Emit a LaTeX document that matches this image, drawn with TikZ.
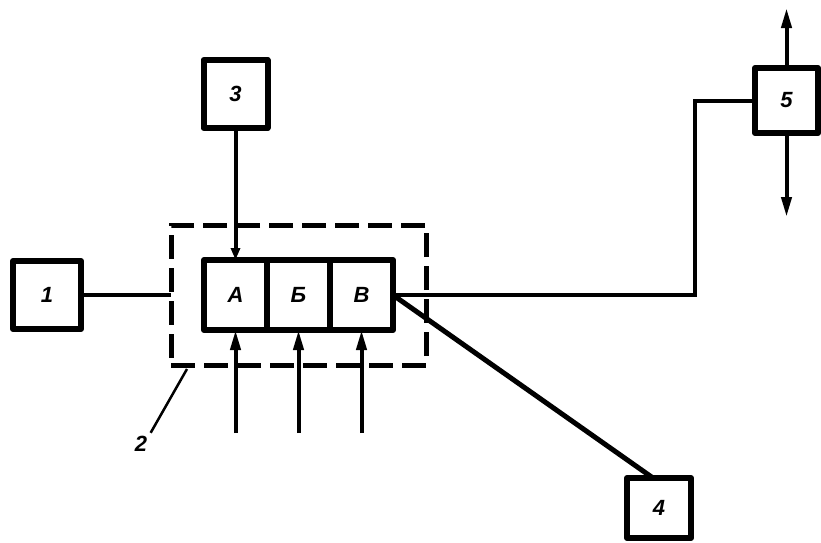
\documentclass[tikz,border=0pt]{standalone}
\usepackage{fontspec}
\setmainfont{Liberation Sans}
\usetikzlibrary{arrows.meta,positioning,fit,calc}

\begin{document}
\begin{tikzpicture}[
    x=1pt, y=-1pt,
    font=\fontsize{22}{24}\selectfont\bfseries\itshape,
    unit/.style={draw, line width=6pt, line join=round, minimum width=64pt, minimum height=68pt, inner sep=0pt, outer sep=0pt},
    cell/.style={draw, line width=6pt, line join=round, minimum width=63pt, minimum height=70pt, inner sep=0pt, outer sep=0pt},
    frame/.style={draw, line width=5pt, dash pattern=on 24pt off 9pt, inner xsep=33pt, inner ysep=35pt, outer sep=0pt},
    wire/.style={line width=4pt},
    arrow/.style={wire, -{Triangle[length=20pt, width=10pt]}},
    leader/.style={line width=2.5pt}
]
\useasboundingbox (0,0) rectangle (821,542);

% block 2 with its three parts
\node[cell] (cellA) at (235.5,295) {А};
\node[cell, right=0pt of cellA] (cellB) {Б};
\node[cell, right=0pt of cellB] (cellV) {В};
\node[frame, fit=(cellA)(cellV)] (frame) {};

\node[unit, minimum width=68pt, left=123pt of cellA] (box1) {1};
\node[unit, above=132pt of cellA] (box3) {3};
\node[unit, minimum width=63pt, minimum height=65pt] (box5) at (786.5,100.5) {5};
\node[unit, minimum height=60pt] (box4) at (659,508) {4};
\node (lbl2) at (141,444) {2};

\draw[wire] (box1) -- (frame.west);
\draw[wire, -{Triangle[length=12pt, width=9pt]}] (box3) -- (cellA);
\foreach \c in {cellA,cellB,cellV} {
    \coordinate[below=103pt of \c] (\c-in);
    \draw[arrow] (\c-in) -- (\c);
}

\coordinate (turn) at (695,100.5);
\draw[wire] (cellV.east) -| (turn) -- (box5);
\draw[wire, line width=5pt] (cellV.east) -- ([xshift=-6pt]box4.north);

\coordinate (up5) at (786.5,8);
\coordinate (down5) at (786.5,217);
\draw[arrow] (box5) -- (up5);
\draw[arrow] (box5) -- (down5);

\draw[leader] ([xshift=16pt,yshift=-4pt]frame.south west) -- (lbl2.north east);
\end{tikzpicture}
\end{document}
